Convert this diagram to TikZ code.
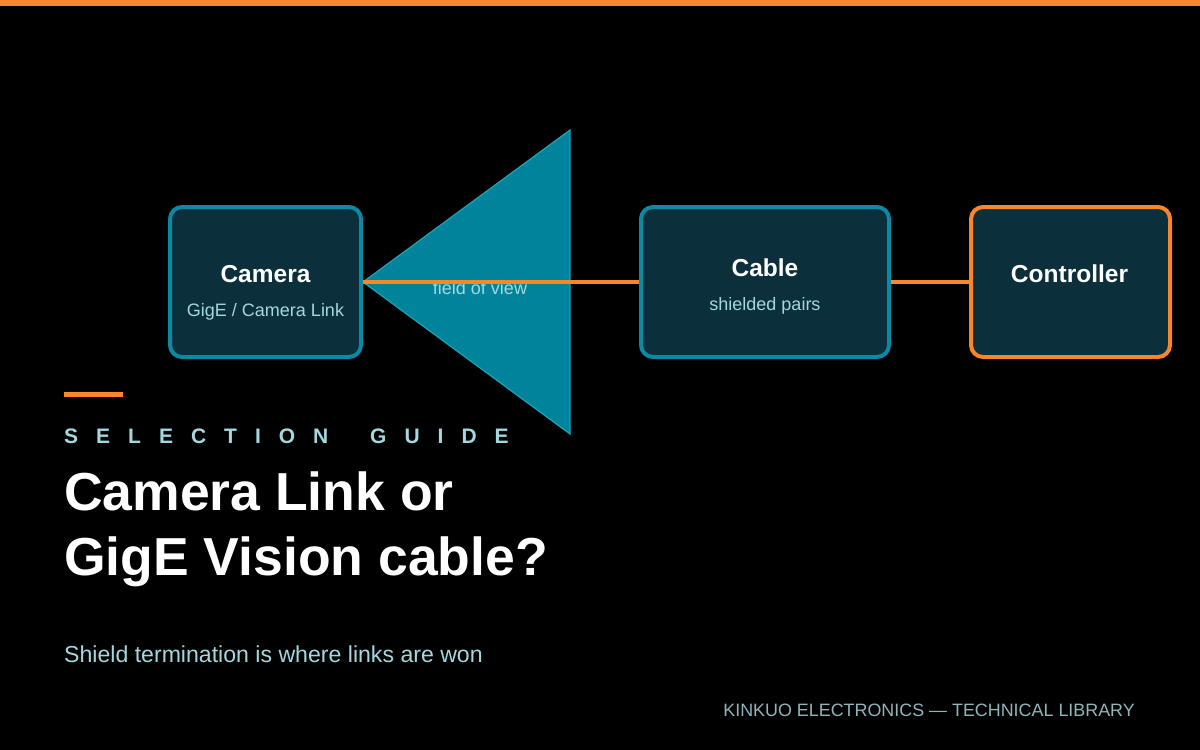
\documentclass[tikz,border=0pt]{standalone}
\usepackage{fontspec}
\setmainfont{Liberation Sans}
\definecolor{bgc}{HTML}{000000}
\definecolor{orng}{HTML}{F7872A}
\definecolor{tealline}{HTML}{0E89A3}
\definecolor{boxfill}{HTML}{0B2F3B}
\definecolor{trifill}{HTML}{00849C}
\definecolor{triline}{HTML}{1AA3BA}
\definecolor{lighttxt}{HTML}{A5D7DF}
\definecolor{foottxt}{HTML}{8FB5BD}
\newcommand{\lsp}{\kern18pt}
\tikzset{
  boxbase/.style={rounded corners=12pt, line width=4pt, fill=boxfill, inner sep=0pt, minimum height=150pt},
  tealbox/.style={boxbase, draw=tealline},
  orngbox/.style={boxbase, draw=orng},
  boxtitle/.style={anchor=base, text=white, inner sep=0pt, font=\bfseries\fontsize{24.5}{28}\selectfont},
  boxsub/.style={anchor=base, text=lighttxt, inner sep=0pt, font=\fontsize{18}{22}\selectfont},
  link/.style={draw=orng, line width=4pt}
}
\begin{document}
\begin{tikzpicture}[x=1pt,y=-1pt]
\useasboundingbox (0,0) rectangle (1200,750);
\fill[bgc] (0,0) rectangle (1200,750);
\fill[orng] (0,0) rectangle (1200,6);
% boxes
\node[tealbox, minimum width=191pt] (camera) at (265.5,282) {};
\node[tealbox, minimum width=248pt] (cable) at (765,282) {};
\node[orngbox, minimum width=199pt] (ctrl) at (1070.5,282) {};
% field of view triangle
\filldraw[fill=trifill, draw=triline, line width=1.2pt, line join=miter] (camera.east) -- (570,130) -- (570,434) -- cycle;
\node[anchor=base, text=lighttxt, inner sep=0pt, font=\fontsize{18}{22}\selectfont] (fov) at (480,294) {field of view};
% connectors
\draw[link] (camera.east) -- (cable.west);
\draw[link] (cable.east) -- (ctrl.west);
% box texts
\node[boxtitle] (camt) at (265.5,282) {Camera};
\node[boxsub] (cams) at (265.5,316) {GigE / Camera Link};
\node[boxtitle] (cabt) at (765,276) {Cable};
\node[boxsub] (cabs) at (765,310) {shielded pairs};
\node[boxtitle] (ctrlt) at (1069.5,282) {Controller};
% headline block
\fill[orng] (64,392) rectangle (123,397);
\node[anchor=base west, inner sep=0pt, text=lighttxt, font=\bfseries\fontsize{21}{24}\selectfont] (kicker) at (64,443)
  {S\lsp E\lsp L\lsp E\lsp C\lsp T\lsp I\lsp O\lsp N\lsp\kern5.8pt\lsp G\lsp U\lsp I\lsp D\lsp E};
\node[anchor=base west, inner sep=0pt, text=white, font=\bfseries\fontsize{53.5}{65}\selectfont] (title1) at (64,510) {Camera Link or};
\node[anchor=base west, inner sep=0pt, text=white, font=\bfseries\fontsize{53.5}{65}\selectfont] (title2) at (64,575) {GigE Vision cable?};
\node[anchor=base west, inner sep=0pt, text=lighttxt, font=\fontsize{23.1}{26}\selectfont] (subt) at (64,662) {Shield termination is where links are won};
\node[anchor=base east, inner sep=0pt, text=foottxt, font=\fontsize{17.9}{20}\selectfont] (foot) at (1135,716) {KINKUO ELECTRONICS — TECHNICAL LIBRARY};
\end{tikzpicture}
\end{document}
